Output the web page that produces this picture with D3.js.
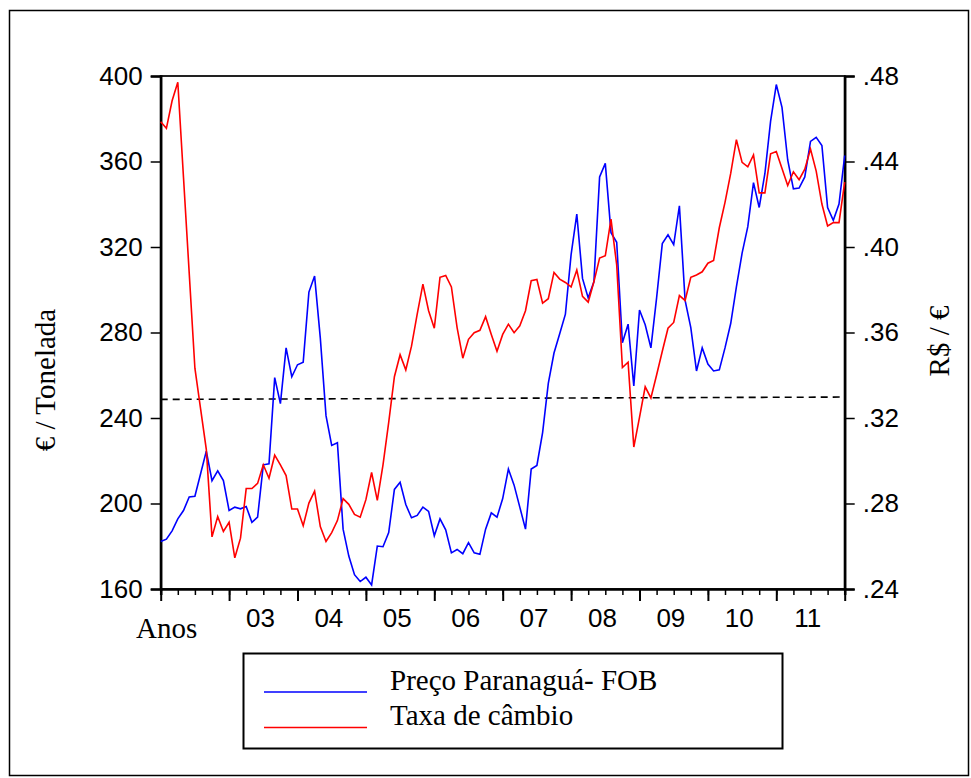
<!DOCTYPE html>
<html>
<head>
<meta charset="utf-8">
<script src="https://cdn.jsdelivr.net/npm/d3@7"></script>
<style>
  body { margin: 0; background: #fff; }
  .serif { font-family: "Liberation Serif", "Times New Roman", serif; }
  .axis text { font-family: "Liberation Sans", Arial, sans-serif; font-size: 26px; fill: #000; }
  .axis path, .axis line { stroke: #000; }
</style>
</head>
<body>
<div class="chart"></div>
<script>
// monthly series, Jan 2002 onwards
const preco = [
  182.2, 183.3, 187.2, 192.8, 196.7, 203.1, 203.4, 213.9, 224.5, 210.7, 215.3, 210.7,
  196.7, 198.3, 197.5, 198.6, 191.2, 193.6, 218.1, 218.6, 258.9, 246.7, 272.8, 259.3,
  264.9, 266.1, 298.9, 306.4, 277.5, 241.1, 227.2, 228.4, 188.0, 175.4, 166.7, 163.5,
  165.5, 161.9, 180.1, 179.8, 186.4, 206.6, 209.9, 199.5, 193.3, 194.4, 198.3, 196.3,
  184.9, 192.8, 187.7, 176.9, 178.5, 176.5, 181.7, 176.9, 176.2, 188.0, 195.6, 193.6,
  202.3, 216.1, 208.6, 198.3, 188.0, 216.1, 217.8, 233.2, 256.2, 270.4, 279.4, 288.6,
  316.4, 335.4, 305.3, 296.2, 303.7, 352.8, 359.1, 326.7, 322.2, 275.2, 283.9, 255.0,
  290.5, 283.6, 272.8, 296.2, 321.6, 325.7, 321.1, 339.3, 295.0, 282.3, 262.0, 272.8,
  265.2, 262.0, 262.5, 272.8, 284.2, 301.3, 317.1, 329.5, 350.1, 338.5, 354.4, 378.9,
  396.0, 385.3, 360.7, 347.2, 347.6, 352.8, 369.4, 371.3, 367.5, 338.5, 332.5, 340.1,
  362.8
];
const cambio = [
  .4586, .4555, .4684, .4771, .4325, .3879, .3433, .3243, .3053, .2644, .2739, .2669,
  .2712, .2546, .2638, .2870, .2870, .2894, .2981, .2918, .3026, .2981, .2931, .2774,
  .2774, .2696, .2802, .2858, .2692, .2622, .2664, .2720, .2823, .2796, .2749, .2736,
  .2818, .2945, .2815, .2981, .3180, .3393, .3496, .3425, .3536, .3686, .3826, .3702,
  .3620, .3858, .3867, .3813, .3623, .3480, .3568, .3599, .3610, .3674, .3591, .3512,
  .3591, .3639, .3599, .3631, .3702, .3842, .3848, .3737, .3758, .3881, .3850, .3834,
  .3813, .3892, .3769, .3742, .3837, .3948, .3959, .4130, .3916, .3436, .3461, .3064,
  .3203, .3346, .3294, .3401, .3512, .3620, .3647, .3773, .3750, .3858, .3869, .3884,
  .3924, .3937, .4090, .4209, .4344, .4502, .4396, .4375, .4431, .4253, .4253, .4436,
  .4447, .4367, .4288, .4352, .4315, .4364, .4458, .4355, .4201, .4098, .4114, .4114,
  .4304
];
const dashed = [248.7, 249.8];   // reference line, start and end (left axis)
const yearLabels = ["03", "04", "05", "06", "07", "08", "09", "10", "11"];
const leftTicks = [160, 200, 240, 280, 320, 360, 400];
const rightTicks = [.24, .28, .32, .36, .40, .44, .48];
const legendNames = ["Preço Paranaguá- FOB", "Taxa de câmbio"];
const colors = ["#0000ff", "#ff0000"];

const margin = {top: 76, left: 160.7};
const width = 684;
const height = 513;

const root = d3.select(".chart").append("svg")
    .attr("width", 971)
    .attr("height", 778);

// outer frame
root.append("rect")
    .attr("x", 9.5).attr("y", 10.5)
    .attr("width", 959).attr("height", 765)
    .attr("fill", "none").attr("stroke", "#000").attr("stroke-width", 1.5);

const svg = root.append("g")
    .attr("transform", `translate(${margin.left},${margin.top})`);

const n = preco.length - 1;
const xScale = d3.scaleLinear().domain([0, n]).range([0, width]);
const yLeft = d3.scaleLinear().domain([160, 400]).range([height, 0]);
const yRight = d3.scaleLinear().domain([.24, .48]).range([height, 0]);

// plot frame
svg.append("rect")
    .attr("width", width).attr("height", height)
    .attr("fill", "none").attr("stroke", "#222").attr("stroke-width", 2);

// x axis: year ticks and quarterly minor ticks
const minor = d3.range(0, n + 1, 3);
const major = d3.range(0, n + 1, 12);
svg.append("g")
    .attr("class", "axis")
    .attr("transform", `translate(0,${height})`)
    .call(d3.axisBottom(xScale).tickValues(minor).tickSize(6).tickFormat(""))
    .call(g => g.selectAll("line").attr("stroke-width", 1.5))
    .call(g => g.select(".domain").attr("stroke-width", 2.5));
svg.append("g")
    .attr("class", "axis")
    .attr("transform", `translate(0,${height})`)
    .call(d3.axisBottom(xScale).tickValues(major).tickSize(12).tickFormat(""))
    .call(g => g.selectAll("line").attr("stroke-width", 2))
    .call(g => g.select(".domain").remove());

svg.append("g")
    .attr("class", "axis")
    .selectAll("text")
    .data(yearLabels)
    .join("text")
    .attr("x", (d, i) => xScale(12 * (i + 1) + 5.5))
    .attr("y", height + 38)
    .attr("text-anchor", "middle")
    .text(d => d);

root.append("text")
    .attr("class", "serif")
    .attr("x", 136).attr("y", 638)
    .attr("font-size", 29)
    .text("Anos");

// y axes
const fmtRight = d => d3.format(".2f")(d).replace(/^0/, "");
svg.append("g")
    .attr("class", "axis")
    .call(d3.axisLeft(yLeft).tickValues(leftTicks).tickSize(10).tickPadding(8))
    .call(g => g.selectAll("line").attr("stroke-width", 1.5))
    .call(g => g.select(".domain").attr("stroke-width", 2.5));
svg.append("g")
    .attr("class", "axis")
    .attr("transform", `translate(${width},0)`)
    .call(d3.axisRight(yRight).tickValues(rightTicks).tickSize(10).tickPadding(8).tickFormat(fmtRight))
    .call(g => g.selectAll("line").attr("stroke-width", 1.5))
    .call(g => g.select(".domain").attr("stroke-width", 2.5));

root.append("text")
    .attr("class", "serif")
    .attr("transform", "translate(55,380) rotate(-90)")
    .attr("text-anchor", "middle")
    .attr("font-size", 29)
    .text("€ / Tonelada");
root.append("text")
    .attr("class", "serif")
    .attr("transform", "translate(949,341) rotate(-90)")
    .attr("text-anchor", "middle")
    .attr("font-size", 29)
    .text("R$ / €");

// dashed reference line
svg.append("path")
    .datum(dashed)
    .attr("fill", "none")
    .attr("stroke", "#000")
    .attr("stroke-width", 1.6)
    .attr("stroke-dasharray", "7,5")
    .attr("d", d3.line().x((d, i) => xScale(i * n)).y(d => yLeft(d)));

// series
svg.append("path")
    .datum(preco)
    .attr("fill", "none")
    .attr("stroke", colors[0])
    .attr("stroke-width", 1.6)
    .attr("d", d3.line().x((d, i) => xScale(i)).y(d => yLeft(d)));
svg.append("path")
    .datum(cambio)
    .attr("fill", "none")
    .attr("stroke", colors[1])
    .attr("stroke-width", 1.6)
    .attr("d", d3.line().x((d, i) => xScale(i)).y(d => yRight(d)));

// legend
const legend = root.append("g");
legend.append("rect")
    .attr("x", 243.5).attr("y", 653.5)
    .attr("width", 539).attr("height", 95)
    .attr("fill", "none").attr("stroke", "#000").attr("stroke-width", 2);
legend.selectAll("line")
    .data(legendNames)
    .join("line")
    .attr("x1", 264).attr("x2", 367)
    .attr("y1", (d, i) => 692 + i * 35.5)
    .attr("y2", (d, i) => 692 + i * 35.5)
    .attr("stroke", (d, i) => colors[i])
    .attr("stroke-width", 1.6);
legend.selectAll("text")
    .data(legendNames)
    .join("text")
    .attr("class", "serif")
    .attr("x", 390)
    .attr("y", (d, i) => 690 + i * 35)
    .attr("font-size", 29)
    .text(d => d);
</script>
</body>
</html>
